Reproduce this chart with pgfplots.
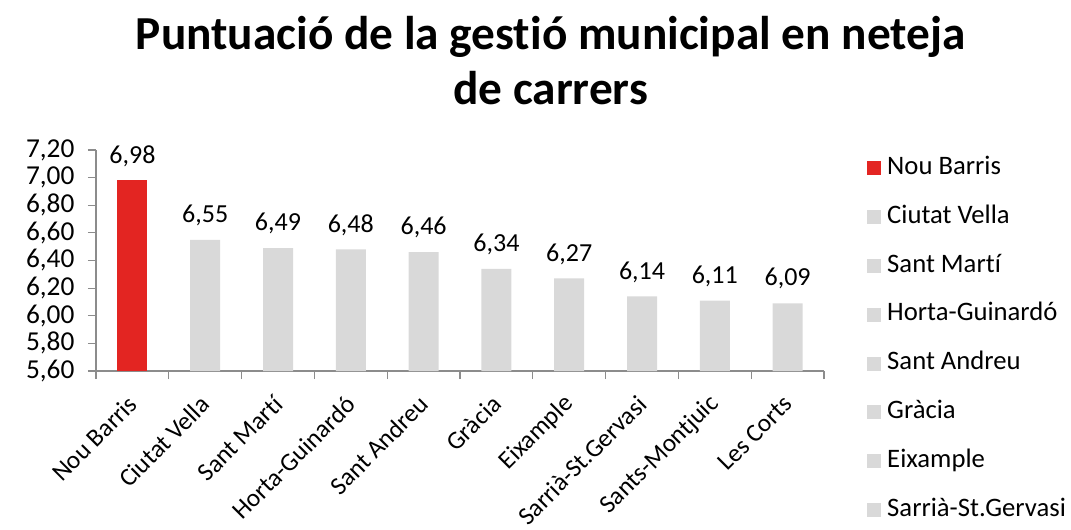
\documentclass[border=0pt]{standalone}
\usepackage{pgfplots}
\pgfplotsset{compat=1.18}
\usepackage{fontspec}
\setmainfont{Carlito}[Ligatures={NoCommon}]
\definecolor{barred}{HTML}{E32522}
\definecolor{bargray}{HTML}{D9D9D9}
\definecolor{axgray}{HTML}{8C8C8C}
\newcommand{\lblfont}{\fontsize{19}{23}\selectfont}
\newcommand{\datafont}{\fontsize{19.5}{23}\selectfont}
\newcommand{\legfont}{\fontsize{20}{24}\selectfont}
\newcommand{\tickfont}{\fontsize{20.5}{24}\selectfont}
\begin{document}
\begin{tikzpicture}
\useasboundingbox (0,0) rectangle (803.25pt,396.75pt);
\clip (0,0) rectangle (803.25pt,396.75pt);
\node[anchor=base, font=\fontsize{35.5}{42}\selectfont\bfseries, inner sep=0pt] at (413pt,359.25pt) {Puntuació de la gestió municipal en neteja};
\node[anchor=base, font=\fontsize{35.5}{42}\selectfont\bfseries, inner sep=0pt] at (413pt,318pt) {de carrers};
\begin{axis}[
  at={(72pt,118.5pt)}, anchor=south west,
  scale only axis, width=546pt, height=165.75pt,
  xmin=-0.5, xmax=9.5, ymin=5.6, ymax=7.2,
  axis lines*=left,
  axis line style={axgray, line width=0.9pt},
  tick style={axgray, line width=0.9pt},
  tick align=outside,
  major tick length=6pt,
  xtick={-0.5,0.5,1.5,2.5,3.5,4.5,5.5,6.5,7.5,8.5,9.5},
  xticklabels={},
  extra x ticks={0,1,2,3,4,5,6,7,8,9},
  extra x tick labels={Nou Barris,Ciutat Vella,Sant Martí,Horta-Guinardó,Sant Andreu,Gràcia,Eixample,Sarrià-St.Gervasi,Sants-Montjuic,Les Corts},
  extra x tick style={major tick length=0pt, xticklabel style={rotate=45, anchor=east, font=\lblfont, inner sep=0pt, xshift=-15.2pt, yshift=-15.6pt}},
  ytick={5.6,5.8,6.0,6.2,6.4,6.6,6.8,7.0,7.2},
  yticklabel={\tickfont\pgfmathprintnumber[fixed,fixed zerofill,precision=2,use comma,assume math mode=true]{\tick}},
  yticklabel style={inner sep=0pt, xshift=-10pt},
  /pgf/number format/assume math mode=true,
  ybar, bar width=22.5pt,
  nodes near coords={\datafont\pgfmathprintnumber[fixed,fixed zerofill,precision=2,use comma,assume math mode=true]{\pgfplotspointmeta}},
  nodes near coords style={black, anchor=base, yshift=13pt, inner sep=0pt},
  legend image code/.code={\fill[#1] (0pt,-5.25pt) rectangle (10.5pt,5.25pt);},
  legend style={at={(axis description cs:1.059,0.975)}, anchor=north west, draw=none, fill=none, inner sep=0pt,
    row sep=17.6pt, font=\legfont,
    nodes={inner sep=1pt, text height=13pt, text depth=4pt},
    /tikz/every odd column/.append style={column sep=3.5pt}},
  legend cell align=left,
]
\addplot[forget plot, fill=barred, draw=none, bar shift=0pt] coordinates {(0,6.98)};
\addplot[forget plot, fill=bargray, draw=none, bar shift=0pt] coordinates {
(1,6.55) (2,6.49) (3,6.48) (4,6.46) (5,6.34) (6,6.27) (7,6.14) (8,6.11) (9,6.09)};
\addlegendimage{fill=barred, draw=none}\addlegendentry{Nou Barris}
\addlegendimage{fill=bargray, draw=none}\addlegendentry{Ciutat Vella}
\addlegendimage{fill=bargray, draw=none}\addlegendentry{Sant Martí}
\addlegendimage{fill=bargray, draw=none}\addlegendentry{Horta-Guinardó}
\addlegendimage{fill=bargray, draw=none}\addlegendentry{Sant Andreu}
\addlegendimage{fill=bargray, draw=none}\addlegendentry{Gràcia}
\addlegendimage{fill=bargray, draw=none}\addlegendentry{Eixample}
\addlegendimage{fill=bargray, draw=none}\addlegendentry{Sarrià-St.Gervasi}
\addlegendimage{fill=bargray, draw=none}\addlegendentry{Sants-Montjuic}
\addlegendimage{fill=bargray, draw=none}\addlegendentry{Les Corts}
\end{axis}
\end{tikzpicture}
\end{document}
